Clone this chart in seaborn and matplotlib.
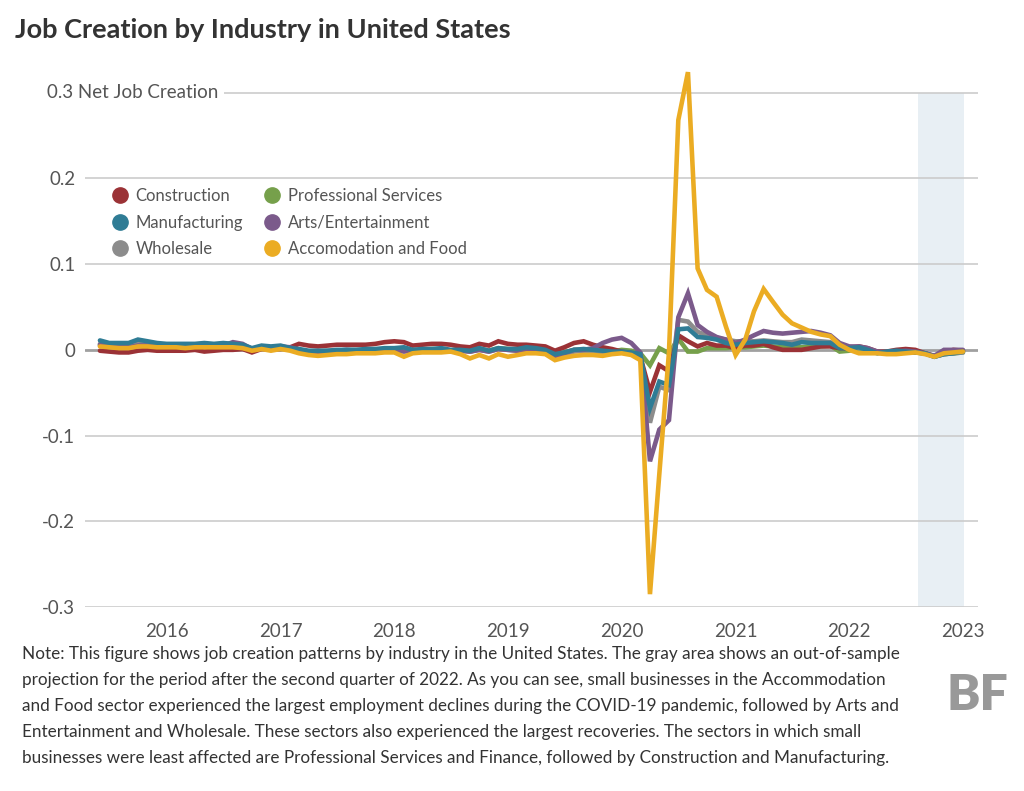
#Import pandas, numpy, matplotlib and seaborn
import pandas as pd
import numpy as np
import matplotlib.pyplot as plt
from matplotlib.lines import Line2D
import seaborn as sns

# Monthly dates, Jun 2015 - Jan 2023
months = pd.date_range("2015-06-01", "2023-01-01", freq="MS")

# Net job creation, one list per industry
construction = [
    -0.001, -0.002, -0.003, -0.003, -0.001, 0.0, -0.001,
    -0.001, -0.001, -0.001, 0.0, -0.002, -0.001, 0.0, 0.0, 0.001, -0.003, 0.001, 0.001,
    0.001, 0.003, 0.007, 0.005, 0.004, 0.005, 0.006, 0.006, 0.006, 0.006, 0.007, 0.009,
    0.01, 0.009, 0.005, 0.006, 0.007, 0.007, 0.006, 0.004, 0.003, 0.007, 0.005, 0.01,
    0.007, 0.006, 0.006, 0.005, 0.004, -0.001, 0.003, 0.008, 0.01, 0.006, 0.003, 0.001,
    -0.002, -0.004, -0.008, -0.049, -0.018, -0.025, 0.017, 0.01, 0.004, 0.008, 0.005, 0.005,
    0.002, 0.005, 0.005, 0.007, 0.003, 0.0, 0.0, 0.0, 0.002, 0.004, 0.004, 0.002,
    0.002, 0.004, 0.002, -0.002, -0.002, 0.0, 0.001, 0.0, -0.004, -0.007, -0.003, 0.0,
    -0.001]
manufacturing = [
    0.011, 0.008, 0.008, 0.008, 0.012, 0.01, 0.008,
    0.007, 0.007, 0.007, 0.007, 0.008, 0.007, 0.008, 0.007, 0.006, 0.002, 0.005, 0.004,
    0.005, 0.002, 0.001, -0.001, -0.001, -0.001, 0.0, 0.0, 0.0, 0.001, 0.001, 0.002,
    0.002, 0.003, 0.0, 0.001, 0.001, 0.002, 0.0, 0.0, -0.001, 0.002, -0.001, 0.002,
    0.001, 0.001, 0.003, 0.002, 0.0, -0.005, -0.003, 0.0, 0.001, 0.0, -0.001, -0.002,
    -0.002, -0.003, -0.005, -0.068, -0.037, -0.041, 0.024, 0.025, 0.015, 0.014, 0.012, 0.008,
    0.006, 0.008, 0.009, 0.01, 0.009, 0.008, 0.006, 0.009, 0.008, 0.008, 0.008, 0.002,
    0.002, 0.003, 0.0, -0.004, -0.002, -0.001, -0.002, -0.003, -0.004, -0.008, -0.005, -0.004,
    -0.002]
wholesale = [
    0.007, 0.006, 0.005, 0.006, 0.008, 0.007, 0.006,
    0.005, 0.005, 0.004, 0.005, 0.005, 0.006, 0.005, 0.005, 0.004, 0.001, 0.003, 0.003,
    0.004, 0.002, 0.0, -0.002, -0.002, -0.001, -0.001, 0.0, 0.0, 0.0, 0.0, 0.001,
    0.001, 0.001, -0.001, 0.0, 0.0, 0.0, -0.001, -0.001, -0.002, 0.0, -0.002, 0.001,
    0.0, -0.001, 0.001, 0.0, -0.002, -0.008, -0.005, -0.002, -0.001, -0.002, -0.003, -0.004,
    -0.002, -0.004, -0.006, -0.085, -0.043, -0.047, 0.035, 0.033, 0.021, 0.017, 0.014, 0.012,
    0.01, 0.01, 0.01, 0.011, 0.01, 0.009, 0.009, 0.012, 0.011, 0.01, 0.009, 0.003,
    0.002, 0.003, 0.0, -0.003, -0.003, -0.002, -0.002, -0.003, -0.004, -0.008, -0.005, -0.004,
    -0.003]
professional = [
    0.005, 0.004, 0.003, 0.004, 0.006, 0.005, 0.004,
    0.004, 0.004, 0.004, 0.004, 0.004, 0.004, 0.004, 0.004, 0.003, 0.0, 0.002, 0.002,
    0.003, 0.001, 0.0, -0.002, -0.002, -0.002, -0.001, -0.001, -0.001, 0.0, 0.0, 0.001,
    0.001, 0.001, -0.001, 0.0, 0.001, 0.0, -0.001, 0.002, -0.002, 0.001, -0.001, 0.002,
    0.001, 0.0, 0.002, 0.001, -0.001, -0.007, -0.003, 0.0, 0.0, -0.001, -0.002, -0.002,
    0.0, -0.001, -0.004, -0.018, 0.002, -0.004, 0.013, -0.002, -0.002, 0.002, 0.002, 0.002,
    0.003, 0.003, 0.004, 0.005, 0.004, 0.003, 0.003, 0.003, 0.004, 0.004, 0.005, -0.002,
    -0.001, 0.002, 0.0, -0.003, -0.004, -0.003, -0.002, -0.003, -0.004, -0.008, -0.005, -0.004,
    -0.003]
arts = [
    0.006, 0.004, 0.003, 0.003, 0.005, 0.005, 0.004,
    0.004, 0.004, 0.003, 0.004, 0.004, 0.004, 0.005, 0.009, 0.007, 0.001, 0.003, 0.002,
    0.004, 0.003, 0.0, -0.002, -0.003, -0.002, -0.001, 0.0, -0.001, -0.001, 0.0, 0.001,
    -0.001, -0.002, -0.001, 0.0, 0.0, 0.0, -0.002, -0.001, -0.002, 0.0, -0.002, 0.001,
    0.0, -0.001, 0.0, 0.0, -0.002, -0.009, -0.004, 0.0, 0.0, 0.002, 0.008, 0.012,
    0.014, 0.008, -0.003, -0.13, -0.093, -0.082, 0.038, 0.066, 0.029, 0.021, 0.015, 0.012,
    0.008, 0.012, 0.017, 0.022, 0.02, 0.019, 0.02, 0.021, 0.022, 0.02, 0.017, 0.008,
    0.004, 0.004, 0.002, -0.002, -0.003, -0.002, -0.001, -0.002, -0.004, -0.007, 0.0, 0.0,
    0.0]
accommodation = [
    0.004, 0.003, 0.002, 0.002, 0.004, 0.004, 0.003,
    0.003, 0.003, 0.002, 0.003, 0.003, 0.003, 0.003, 0.003, 0.002, -0.001, 0.001, -0.001,
    0.001, -0.001, -0.004, -0.006, -0.007, -0.006, -0.005, -0.005, -0.004, -0.004, -0.004, -0.003,
    -0.003, -0.008, -0.004, -0.003, -0.003, -0.003, -0.002, -0.005, -0.01, -0.006, -0.01, -0.005,
    -0.008, -0.006, -0.004, -0.004, -0.005, -0.012, -0.009, -0.007, -0.006, -0.006, -0.007, -0.005,
    -0.004, -0.006, -0.012, -0.285, -0.145, -0.003, 0.268, 0.324, 0.095, 0.07, 0.062, 0.027,
    -0.006, 0.012, 0.045, 0.071, 0.056, 0.041, 0.031, 0.026, 0.021, 0.018, 0.016, 0.006,
    0.0, -0.004, -0.004, -0.004, -0.005, -0.005, -0.004, -0.003, -0.005, -0.008, -0.004, -0.003,
    -0.002]

industries = ["Construction", "Manufacturing", "Wholesale",
              "Professional Services", "Arts/Entertainment", "Accomodation and Food"]
colors = ["#9b3236", "#2f7c95", "#8c8c8c", "#76a04b", "#7b5a8b", "#ebac23"]

# long form dataframe for seaborn
df = pd.DataFrame({"Date": months,
                   "Construction": construction,
                   "Manufacturing": manufacturing,
                   "Wholesale": wholesale,
                   "Professional Services": professional,
                   "Arts/Entertainment": arts,
                   "Accomodation and Food": accommodation})
df = df.melt(id_vars="Date", var_name="Industry", value_name="Net")

sns.set_style("white")
plt.rcParams['font.family'] = ['Lato', 'DejaVu Sans']

fig = plt.figure(figsize=(10.24, 7.91), dpi=100)
ax = fig.add_axes([0.083, 0.2326, 0.872, 0.6827])

# drawing order (last on top)
draw_order = ["Professional Services", "Wholesale", "Construction",
              "Arts/Entertainment", "Manufacturing", "Accomodation and Food"]
pal = dict(zip(industries, colors))
sns.lineplot(data=df, x="Date", y="Net", hue="Industry", hue_order=draw_order,
             palette=pal, linewidth=3.3, legend=False, ax=ax, zorder=3)
for l in ax.lines:
    l.set_solid_joinstyle("miter")
    l.set_clip_on(False)

# projection area
ax.axvspan(pd.Timestamp("2022-08-10"), pd.Timestamp("2023-01-04"),
           ymin=0, ymax=0.6 / 0.63, color="#e8eff4", zorder=0, lw=0)

ax.set_ylim(-0.3, 0.33)
ax.set_xlim(pd.Timestamp("2015-04-14"), pd.Timestamp("2023-02-18"))

yticks = [-0.3, -0.2, -0.1, 0, 0.1, 0.2, 0.3]
ylabels = ["-0.3", "-0.2", "-0.1", "0", "0.1", "0.2", ""]
ax.set_yticks(yticks)
ax.set_yticklabels(ylabels)
years = list(range(2016, 2024))
ax.set_xticks([pd.Timestamp(f"{y}-01-01") for y in years])
ax.set_xticklabels([str(y) for y in years])
ax.tick_params(axis="y", length=0, pad=7, labelsize=13.5, labelcolor="#555555")
ax.tick_params(axis="x", length=0, pad=11.5, labelsize=13.5, labelcolor="#555555")
ax.set_xlabel("")
ax.set_ylabel("")

ax.grid(False)
for y in yticks:
    if y == 0:
        ax.axhline(0, color="#a0a0a0", lw=2, zorder=1)
    else:
        ax.axhline(y, color="#cccccc", lw=1.2, zorder=1)
for s in ax.spines.values():
    s.set_visible(False)

# top label covers the grid line
ax.text(-0.043, 0.3, "0.3 Net Job Creation", transform=ax.get_yaxis_transform(),
        ha="left", va="center", fontsize=13.5, color="#555555", zorder=4,
        bbox=dict(facecolor="white", edgecolor="none", pad=4))

# legend with round markers
handles = [Line2D([], [], marker="o", linestyle="", markersize=11,
                  markerfacecolor=c, markeredgecolor=c) for c in colors]
fig.legend(handles, industries, loc="upper left", bbox_to_anchor=(0.094, 0.781),
           ncol=2, frameon=False, fontsize=12, labelcolor="#555555",
           handletextpad=0.45, columnspacing=1.25, labelspacing=0.62, handlelength=1.0)

fig.text(0.015, 0.962, "Job Creation by Industry in United States", fontsize=19.5,
         fontweight="bold", color="#333333", ha="left", va="center")

note = ("Note: This figure shows job creation patterns by industry in the United States. The gray area shows an out-of-sample\n"
        "projection for the period after the second quarter of 2022. As you can see, small businesses in the Accommodation\n"
        "and Food sector experienced the largest employment declines during the COVID-19 pandemic, followed by Arts and\n"
        "Entertainment and Wholesale. These sectors also experienced the largest recoveries. The sectors in which small\n"
        "businesses were least affected are Professional Services and Finance, followed by Construction and Manufacturing.")
fig.text(0.021, 0.1835, note, fontsize=12.3, color="#333333", ha="left", va="top",
         linespacing=1.77)

fig.text(0.985, 0.121, "BF", fontsize=36, fontweight="heavy", color="#999999",
         ha="right", va="center")

fig.savefig("out.png", dpi=100)
